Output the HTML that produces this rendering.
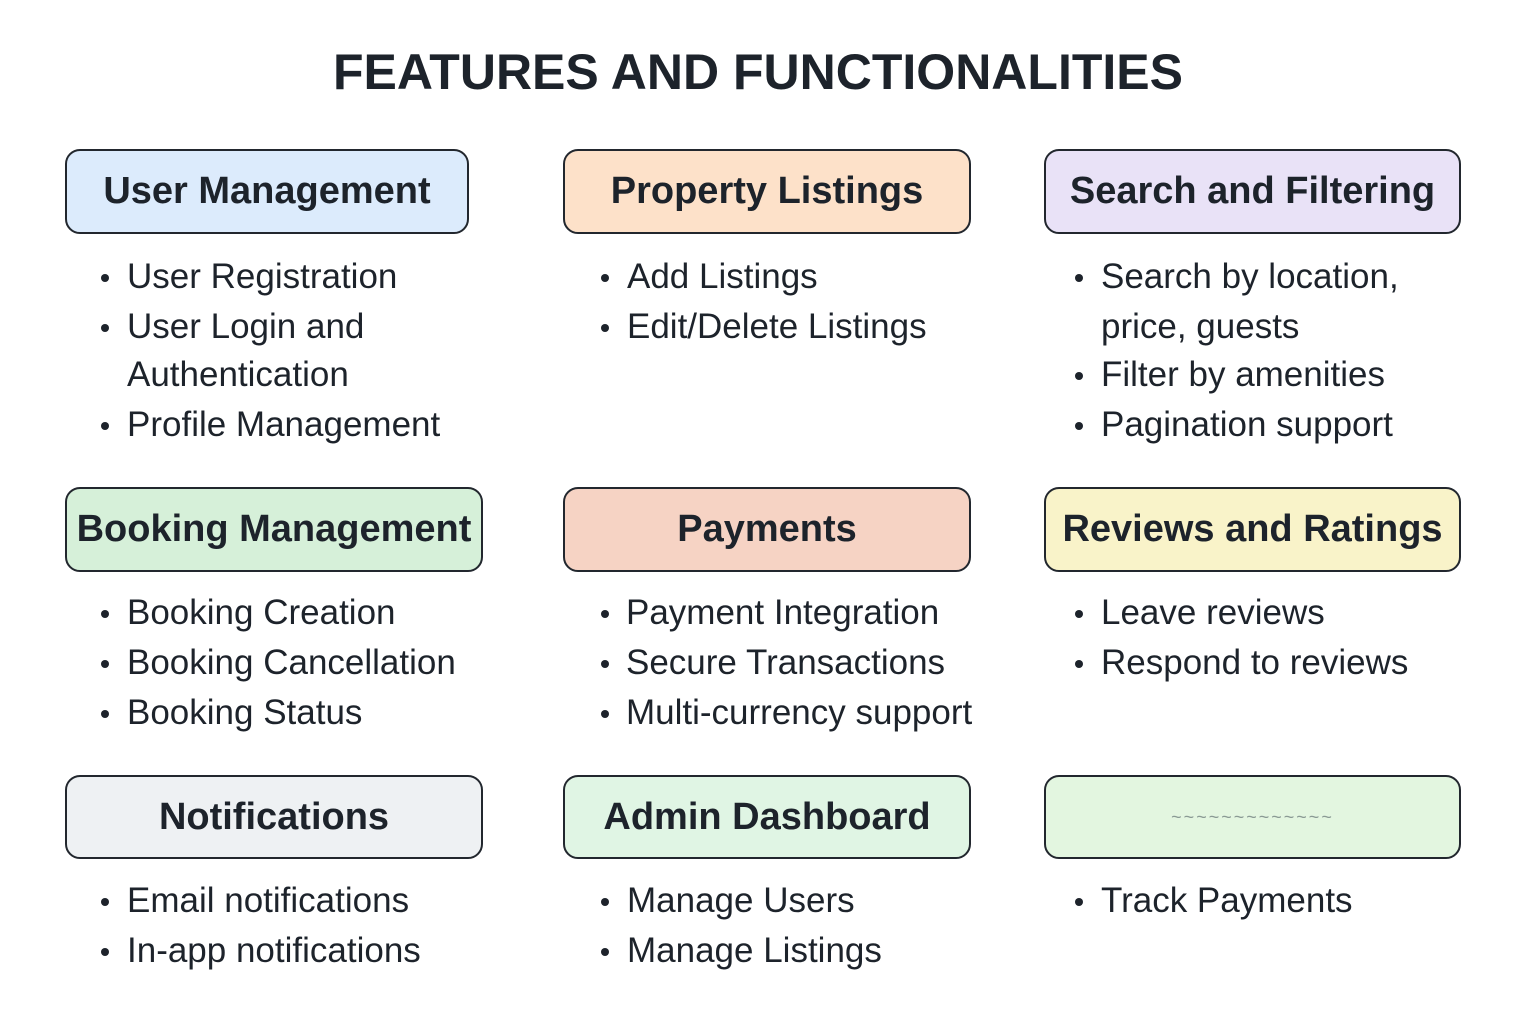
<!DOCTYPE html>
<html><head><meta charset="utf-8"><style>
body{margin:0;width:1536px;height:1024px;background:#fff;position:relative;overflow:hidden;font-family:"Liberation Sans",sans-serif;color:#1d232b}
.t{position:absolute;left:0;width:1516px;top:40px;text-align:center;font-weight:bold;font-size:50px;line-height:64px}
.b{position:absolute;box-sizing:border-box;border:2px solid #22272e;border-radius:15px;display:flex;align-items:center;justify-content:center;font-weight:bold;font-size:38px;white-space:nowrap}
.l{position:absolute;font-size:35px;line-height:40px;white-space:nowrap}
.d{position:absolute;width:8px;height:8px;border-radius:50%;background:#1d232b}
</style></head><body>
<div class="t">FEATURES AND FUNCTIONALITIES</div>

<div class="b" style="left:65px;top:149px;width:404px;height:85px;background:#dcebfc">User Management</div>
<div class="b" style="left:563px;top:149px;width:408px;height:85px;background:#fde1c9">Property Listings</div>
<div class="b" style="left:1044px;top:149px;width:417px;height:85px;background:#e9e2f7">Search and Filtering</div>

<div class="b" style="left:65px;top:487px;width:418px;height:85px;background:#d6f0d9">Booking Management</div>
<div class="b" style="left:563px;top:487px;width:408px;height:85px;background:#f6d3c4">Payments</div>
<div class="b" style="left:1044px;top:487px;width:417px;height:85px;background:#f9f3c9">Reviews and Ratings</div>

<div class="b" style="left:65px;top:775px;width:418px;height:84px;background:#eef1f3">Notifications</div>
<div class="b" style="left:563px;top:775px;width:408px;height:84px;background:#e0f5e4">Admin Dashboard</div>
<div class="b" style="left:1044px;top:775px;width:417px;height:84px;background:#e3f6e0;font-size:18px;color:#8a9a94;font-weight:normal;letter-spacing:2px">~~~~~~~~~~~~~</div>

<div class="d" style="left:101px;top:274px"></div><div class="l" style="left:127px;top:257px">User Registration</div>
<div class="d" style="left:101px;top:324px"></div><div class="l" style="left:127px;top:307px">User Login and</div>
<div class="l" style="left:127px;top:355px">Authentication</div>
<div class="d" style="left:101px;top:422px"></div><div class="l" style="left:127px;top:405px">Profile Management</div>

<div class="d" style="left:101px;top:610px"></div><div class="l" style="left:127px;top:593px">Booking Creation</div>
<div class="d" style="left:101px;top:660px"></div><div class="l" style="left:127px;top:643px">Booking Cancellation</div>
<div class="d" style="left:101px;top:710px"></div><div class="l" style="left:127px;top:693px">Booking Status</div>

<div class="d" style="left:101px;top:898px"></div><div class="l" style="left:127px;top:881px">Email notifications</div>
<div class="d" style="left:101px;top:948px"></div><div class="l" style="left:127px;top:931px">In-app notifications</div>

<div class="d" style="left:601px;top:274px"></div><div class="l" style="left:627px;top:257px">Add Listings</div>
<div class="d" style="left:601px;top:324px"></div><div class="l" style="left:627px;top:307px">Edit/Delete Listings</div>

<div class="d" style="left:601px;top:610px"></div><div class="l" style="left:626px;top:593px">Payment Integration</div>
<div class="d" style="left:601px;top:660px"></div><div class="l" style="left:626px;top:643px">Secure Transactions</div>
<div class="d" style="left:601px;top:710px"></div><div class="l" style="left:626px;top:693px">Multi-currency support</div>

<div class="d" style="left:601px;top:898px"></div><div class="l" style="left:627px;top:881px">Manage Users</div>
<div class="d" style="left:601px;top:948px"></div><div class="l" style="left:627px;top:931px">Manage Listings</div>

<div class="d" style="left:1075px;top:274px"></div><div class="l" style="left:1101px;top:257px">Search by location,</div>
<div class="l" style="left:1101px;top:307px">price, guests</div>
<div class="d" style="left:1075px;top:372px"></div><div class="l" style="left:1101px;top:355px">Filter by amenities</div>
<div class="d" style="left:1075px;top:422px"></div><div class="l" style="left:1101px;top:405px">Pagination support</div>

<div class="d" style="left:1075px;top:610px"></div><div class="l" style="left:1101px;top:593px">Leave reviews</div>
<div class="d" style="left:1075px;top:660px"></div><div class="l" style="left:1101px;top:643px">Respond to reviews</div>

<div class="d" style="left:1075px;top:898px"></div><div class="l" style="left:1101px;top:881px">Track Payments</div>
</body></html>
